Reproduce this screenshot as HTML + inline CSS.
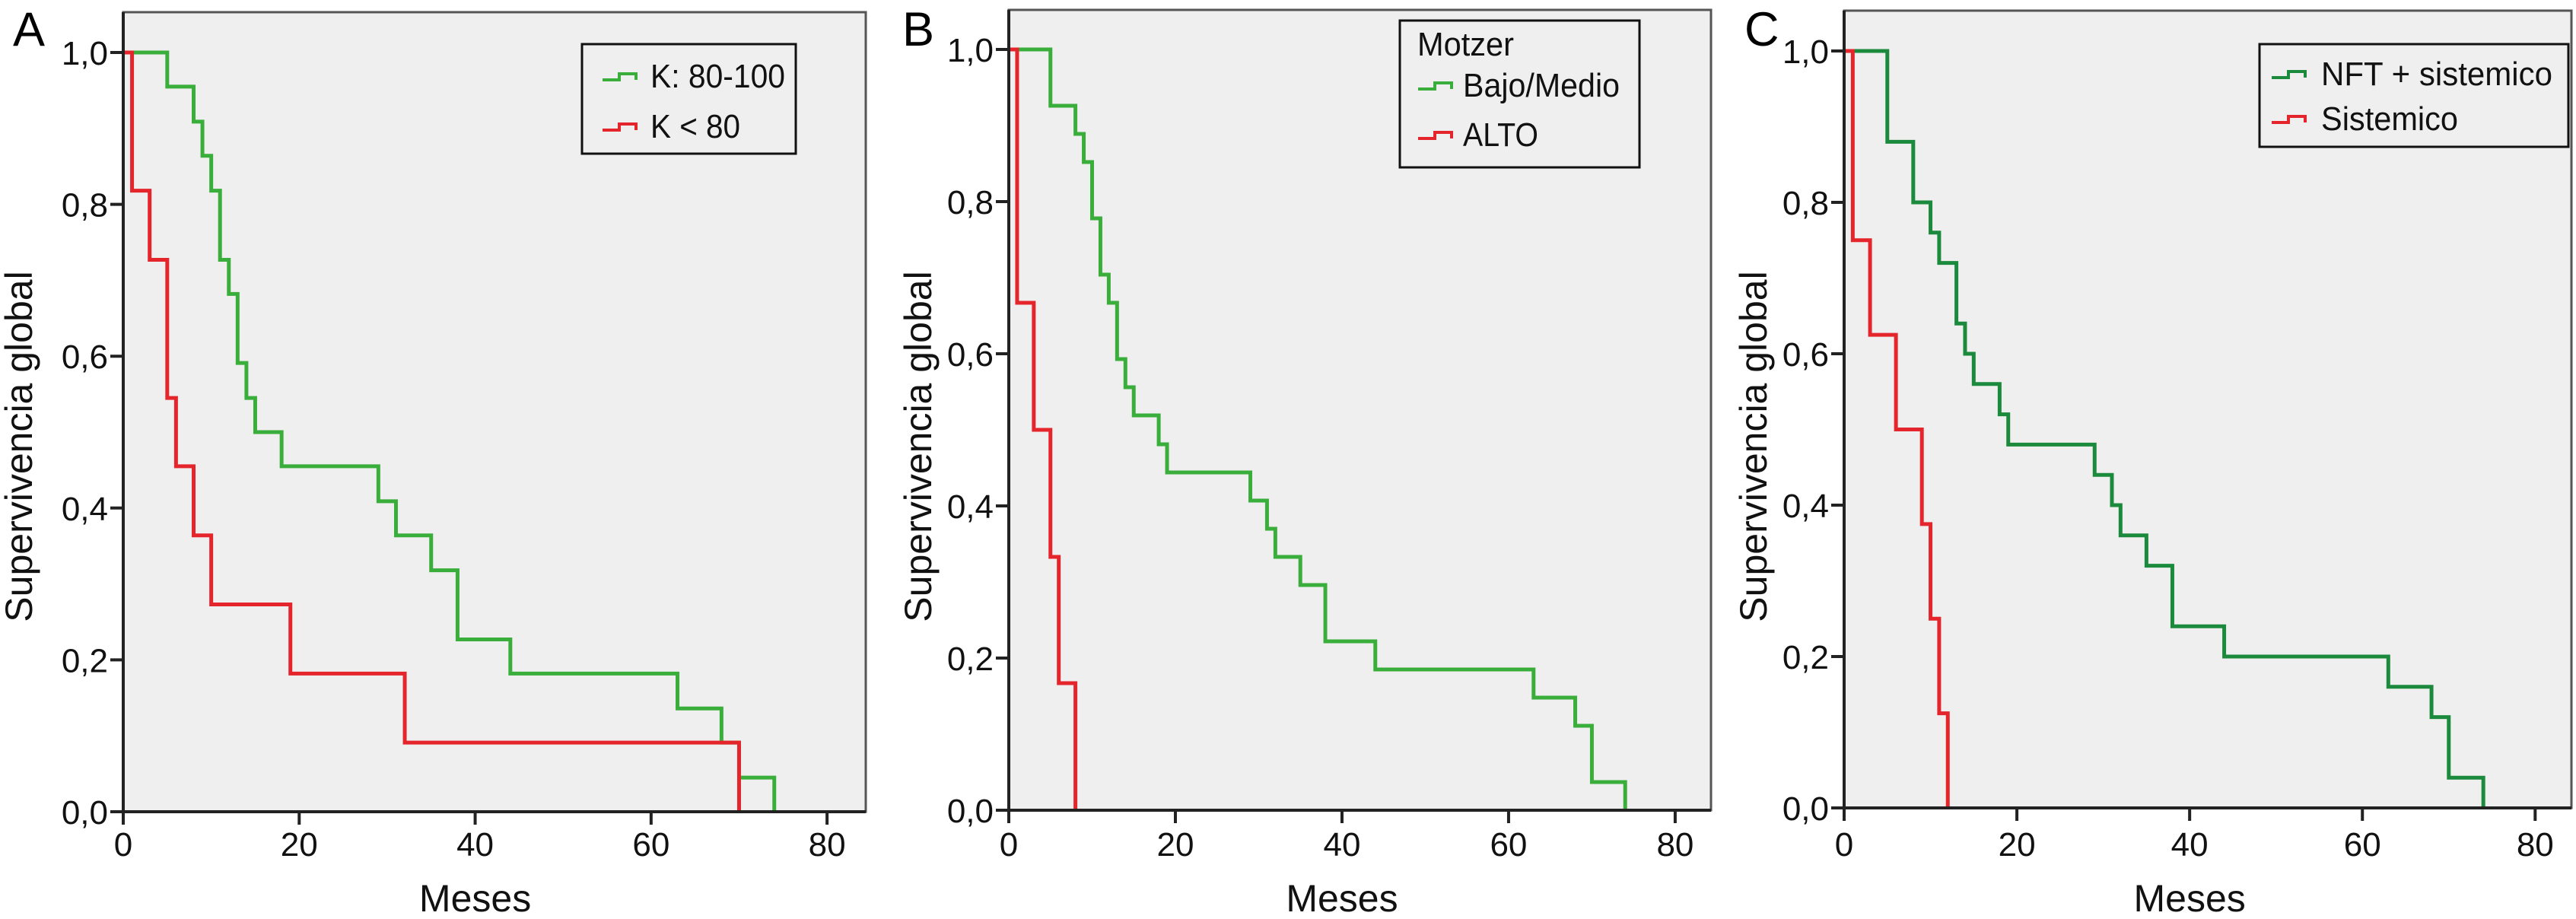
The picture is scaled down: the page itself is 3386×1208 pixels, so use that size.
<!DOCTYPE html>
<html><head><meta charset="utf-8">
<style>
html,body{margin:0;padding:0;background:#fff;}
svg{display:block;font-family:"Liberation Sans",Arial,sans-serif;}
</style></head>
<body>
<svg id="chart" width="3386" height="1208" viewBox="0 0 3386 1208" xmlns="http://www.w3.org/2000/svg"></svg>
<script>
// ---- Data ----
const xTicks = [0, 20, 40, 60, 80];
const yTicks = [0, 0.2, 0.4, 0.6, 0.8, 1.0];
const yTickLabels = ["0,0", "0,2", "0,4", "0,6", "0,8", "1,0"];

const aGreenT = [0, 5, 8, 9, 10, 11, 12, 13, 14, 15, 18, 29, 31, 35, 38, 44, 63, 68, 70, 74];
const aGreenS = [1, 0.955, 0.909, 0.864, 0.818, 0.727, 0.682, 0.591, 0.545, 0.5, 0.455, 0.409, 0.364, 0.318, 0.227, 0.182, 0.136, 0.091, 0.045, 0];
const aRedT = [0, 1, 3, 5, 6, 8, 10, 19, 32, 70];
const aRedS = [1, 0.818, 0.727, 0.545, 0.455, 0.364, 0.273, 0.182, 0.091, 0];

const bGreenT = [0, 5, 8, 9, 10, 11, 12, 13, 14, 15, 18, 19, 29, 31, 32, 35, 38, 44, 63, 68, 70, 74];
const bGreenS = [1, 0.926, 0.889, 0.852, 0.778, 0.704, 0.667, 0.593, 0.556, 0.519, 0.481, 0.444, 0.407, 0.370, 0.333, 0.296, 0.222, 0.185, 0.148, 0.111, 0.037, 0];
const bRedT = [0, 1, 3, 5, 6, 8];
const bRedS = [1, 0.667, 0.5, 0.333, 0.167, 0];

const cGreenT = [0, 5, 8, 10, 11, 13, 14, 15, 18, 19, 29, 31, 32, 35, 38, 44, 63, 68, 70, 74];
const cGreenS = [1, 0.88, 0.80, 0.76, 0.72, 0.64, 0.60, 0.56, 0.52, 0.48, 0.44, 0.40, 0.36, 0.32, 0.24, 0.20, 0.16, 0.12, 0.04, 0];
const cRedT = [0, 1, 3, 6, 9, 10, 11, 12];
const cRedS = [1, 0.75, 0.625, 0.5, 0.375, 0.25, 0.125, 0];

const NS = "http://www.w3.org/2000/svg";
const svg = document.getElementById("chart");
function mk(tag, attrs, parent) {
  const e = document.createElementNS(NS, tag);
  for (const k in attrs) e.setAttribute(k, attrs[k]);
  (parent || svg).appendChild(e);
  return e;
}

const panels = [
  {id:"a", letter:"A", left:162, right:1138, top:16, y0:1067, y1:69, xmax:84.4, lx:17, ytx:42,
   series:[{t:aGreenT,s:aGreenS,c:"#3aae3a",name:"K: 80-100",w:177},{t:aRedT,s:aRedS,c:"#e4262c",name:"K < 80",w:118}],
   legend:{x:765,y:58,w:281,h:144,title:null,rows:[115,181],sym:792,tx:855}},
  {id:"b", letter:"B", left:1326, right:2249, top:13, y0:1065, y1:65, xmax:84.3, lx:1186, ytx:1224,
   series:[{t:bGreenT,s:bGreenS,c:"#3aae3a",name:"Bajo/Medio",w:206},{t:bRedT,s:bRedS,c:"#e4262c",name:"ALTO",w:99}],
   legend:{x:1840,y:27,w:315,h:193,title:"Motzer",tw:127,rows:[127,192],sym:1864,tx:1923}},
  {id:"c", letter:"C", left:2424, right:3380, top:14, y0:1062, y1:67, xmax:84.2, lx:2293, ytx:2322,
   series:[{t:cGreenT,s:cGreenS,c:"#1b8a3c",name:"NFT + sistemico",w:304},{t:cRedT,s:cRedS,c:"#e4262c",name:"Sistemico",w:180}],
   legend:{x:2970,y:58,w:406,h:135,title:null,rows:[112,171],sym:2986,tx:3051}}
];

panels.forEach(p => {
  const g = mk("g", {});
  
  
  const xs = v => p.left + (v / p.xmax) * (p.right - p.left);
  const ys = v => p.y0 - v * (p.y0 - p.y1);

  const bg = mk("rect", {x:p.left, y:p.top, width:p.right-p.left, height:p.y0-p.top, fill:"#efefef", stroke:"#555", "stroke-width":3}, g);
  
  

  p.series.forEach((se, i) => {
    let d = "M" + xs(se.t[0]) + " " + ys(se.s[0]);
    for (let k = 1; k < se.t.length; k++) {
      d += " H" + xs(se.t[k]) + " V" + ys(se.s[k]);
    }
    const path = mk("path", {d:d, fill:"none", stroke:se.c, "stroke-width":5, "stroke-linejoin":"miter"}, g);
    
    
  });

  const ax = mk("path", {d:"M"+p.left+" "+p.top+" V"+p.y0+" H"+p.right, fill:"none", stroke:"#222", "stroke-width":4}, g);
  
  

  yTicks.forEach((v, i) => {
    const y = ys(v);
    const tk = mk("line", {x1:p.left-17, x2:p.left, y1:y, y2:y, stroke:"#222", "stroke-width":4}, g);
    
    
    const tl = mk("text", {x:p.left-20, y:y+16, "text-anchor":"end", "font-size":44, fill:"#111"}, g);
    tl.textContent = yTickLabels[i];
    
    
  });
  xTicks.forEach(v => {
    const x = xs(v);
    const tk = mk("line", {x1:x, x2:x, y1:p.y0, y2:p.y0+17, stroke:"#222", "stroke-width":4}, g);
    
    
    const tl = mk("text", {x:x, y:1125, "text-anchor":"middle", "font-size":44, fill:"#111"}, g);
    tl.textContent = String(v);
    
    
  });

  const xt = mk("text", {x:(xs(0)+xs(80))/2, y:1198, "text-anchor":"middle", "font-size":50, fill:"#111"}, g);
  xt.textContent = "Meses";
  
  

  const yt = mk("text", {x:0, y:0, "text-anchor":"middle", "font-size":50, fill:"#111", transform:"translate("+p.ytx+",587) rotate(-90)"}, g);
  yt.textContent = "Supervivencia global";
  
  

  const pl = mk("text", {x:p.lx, y:60, "font-size":63, fill:"#000"}, g);
  pl.textContent = p.letter;
  
  

  const L = p.legend;
  const lg = mk("g", {}, g);
  
  
  mk("rect", {x:L.x, y:L.y, width:L.w, height:L.h, fill:"#efefef", stroke:"#111", "stroke-width":3}, lg);
  if (L.title) {
    const tt = mk("text", {x:L.x+23, y:73, "font-size":44, fill:"#111", textLength:L.tw, lengthAdjust:"spacingAndGlyphs"}, lg);
    tt.textContent = L.title;
    
    
  }
  p.series.forEach((se, i) => {
    const by = L.rows[i];
    const sy = by - 14;
    const sym = mk("path", {d:"M"+L.sym+" "+(sy+4)+" H"+(L.sym+22)+" V"+(sy-4)+" H"+(L.sym+44)+" V"+(sy+4), fill:"none", stroke:se.c, "stroke-width":4}, lg);
    
    
    const lt = mk("text", {x:L.tx, y:by, "font-size":44, fill:"#111", textLength:se.w, lengthAdjust:"spacingAndGlyphs"}, lg);
    lt.textContent = se.name;
    
    
  });
});
</script>
</body></html>
